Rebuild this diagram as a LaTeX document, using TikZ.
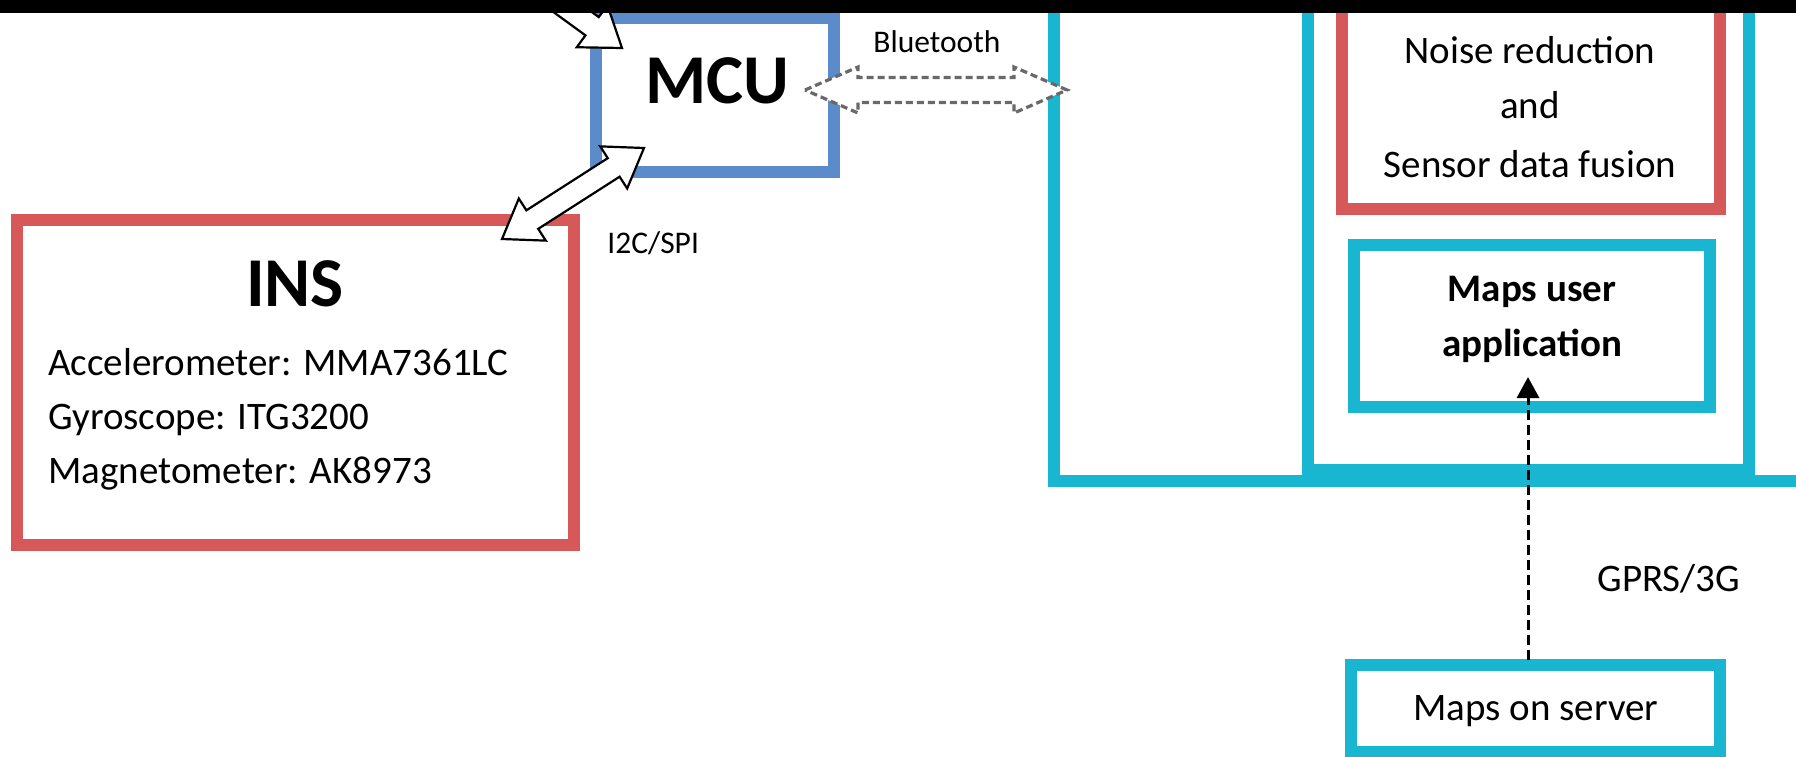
\documentclass[tikz,border=0pt]{standalone}
\usepackage{fontspec}
\setmainfont{Carlito}
\usetikzlibrary{calc,arrows.meta}
\definecolor{cRed}{RGB}{215,88,88}
\definecolor{cBlue}{RGB}{91,139,201}
\definecolor{cTeal}{RGB}{24,182,208}
\definecolor{cDash}{RGB}{105,105,105}
% double block arrow: #1 style, #2 end A, #3 end B, #4 shaft half width, #5 head half width, #6 head length
\newcommand\dblblockarrow[6]{%
  \coordinate (da1) at ($(#2)!#6!(#3)$);
  \coordinate (da2) at ($(#3)!#6!(#2)$);
  \draw[#1] (#2) -- ($(da1)!#5!90:(#3)$) -- ($(da1)!#4!90:(#3)$)
    -- ($(da2)!#4!-90:(#2)$) -- ($(da2)!#5!-90:(#2)$) -- (#3)
    -- ($(da2)!#5!90:(#2)$) -- ($(da2)!#4!90:(#2)$)
    -- ($(da1)!#4!-90:(#3)$) -- ($(da1)!#5!-90:(#3)$) -- cycle;}
% single block arrow: #1 style, #2 tail, #3 tip, #4 shaft half width, #5 head half width, #6 head length
\newcommand\singleblockarrow[6]{%
  \coordinate (sa1) at ($(#3)!#6!(#2)$);
  \draw[#1] ($(#2)!#4!-90:(#3)$) -- ($(sa1)!#4!90:(#2)$) -- ($(sa1)!#5!90:(#2)$)
    -- (#3) -- ($(sa1)!#5!-90:(#2)$) -- ($(sa1)!#4!-90:(#2)$)
    -- ($(#2)!#4!90:(#3)$) -- cycle;}
\begin{document}
\begin{tikzpicture}[x=0.5pt,y=-0.5pt,
  box/.style={draw=#1, line width=6pt, inner sep=0pt},
  body/.style={inner sep=0pt, font=\fontsize{19.5pt}{23pt}\selectfont},
  bodyb/.style={inner sep=0pt, font=\fontsize{19.5pt}{23pt}\selectfont\bfseries},
  small/.style={inner sep=0pt, font=\fontsize{15.75pt}{19pt}\selectfont},
  title/.style={inner sep=0pt, font=\fontsize{35pt}{40pt}\selectfont\bfseries},
  blockarr/.style={draw=black, line width=1.1pt, fill=white, line join=miter},
  btarr/.style={draw=cDash, line width=1.6pt, fill=white, dash pattern=on 3.5pt off 2pt},
  gprsarr/.style={draw=black, line width=1.5pt, dash pattern=on 5pt off 2.5pt,
    -{Triangle[length=10.5pt,width=11pt]}}]
\useasboundingbox (0,0) rectangle (1796,756);
\fill[white] (0,0) rectangle (1796,756);
\clip (0,0) rectangle (1796,756);

% boxes
\node[box=cTeal, minimum width=423pt, minimum height=260.5pt] (outer) at (1477,220.5) {};
\node[box=cTeal, minimum width=220.75pt, minimum height=255pt] (phone) at (1528.25,215) {};
\node[box=cRed, minimum width=189.25pt, minimum height=124.5pt] (proc) at (1530.75,84.5) {};
\node[box=cTeal, minimum width=178.25pt, minimum height=80.75pt] (app) at (1531.75,325.75) {};
\node[box=cTeal, minimum width=184.5pt, minimum height=43.5pt] (server) at (1535.5,708.5) {};
\node[box=cRed, minimum width=278.5pt, minimum height=162.5pt] (ins) at (295.5,382.5) {};
\node[box=cBlue, minimum width=119pt, minimum height=77pt] (mcu) at (715,95) {};

% texts
\node[title, anchor=base] (mcuT) at (717,103) {MCU};
\node[title, anchor=base] (insT) at (295,306) {INS};
\node[body, anchor=base west] (acc) at (48,375) {Accelerometer: MMA7361LC};
\node[body, anchor=base west] (gyr) at (48,429) {Gyroscope: ITG3200};
\node[body, anchor=base west] (mag) at (48,483) {Magnetometer: AK8973};
\node[small, anchor=base west] (btT) at (873,52) {Bluetooth};
\node[small, anchor=base west] (i2cT) at (607,253) {I2C/SPI};
\node[body, anchor=base] (noise) at (1530,63) {Noise reduction};
\node[body, anchor=base] (andT) at (1530,118) {and};
\node[body, anchor=base] (fusion) at (1530,177) {Sensor data fusion};
\node[bodyb, anchor=base] (appT1) at (1532,301) {Maps user};
\node[bodyb, anchor=base] (appT2) at (1532,356) {application};
\node[body, anchor=base west] (gprsT) at (1597,591) {GPRS/3G};
\node[body, anchor=base] (serverT) at (1536,720) {Maps on server};

% connectors
\coordinate (ulTail) at (460,-70);
\coordinate (ulTip) at (622,48);
\singleblockarrow{blockarr}{ulTail}{ulTip}{5.65pt}{13pt}{18.5pt}
\coordinate (i2cA) at (502,239);
\coordinate (i2cB) at (644,148);
\dblblockarrow{blockarr}{i2cA}{i2cB}{5.5pt}{12.5pt}{18pt}
\coordinate (btA) at (805,90);
\coordinate (btB) at (1067,90);
\dblblockarrow{btarr}{btA}{btB}{6.25pt}{11.5pt}{26.5pt}
\coordinate (gA) at (1528,660);
\coordinate (gB) at (1528,377);
\draw[gprsarr] (gA) -- (gB);

% top band
\fill[black] (0,0) rectangle (1796,13);
\end{tikzpicture}
\end{document}
